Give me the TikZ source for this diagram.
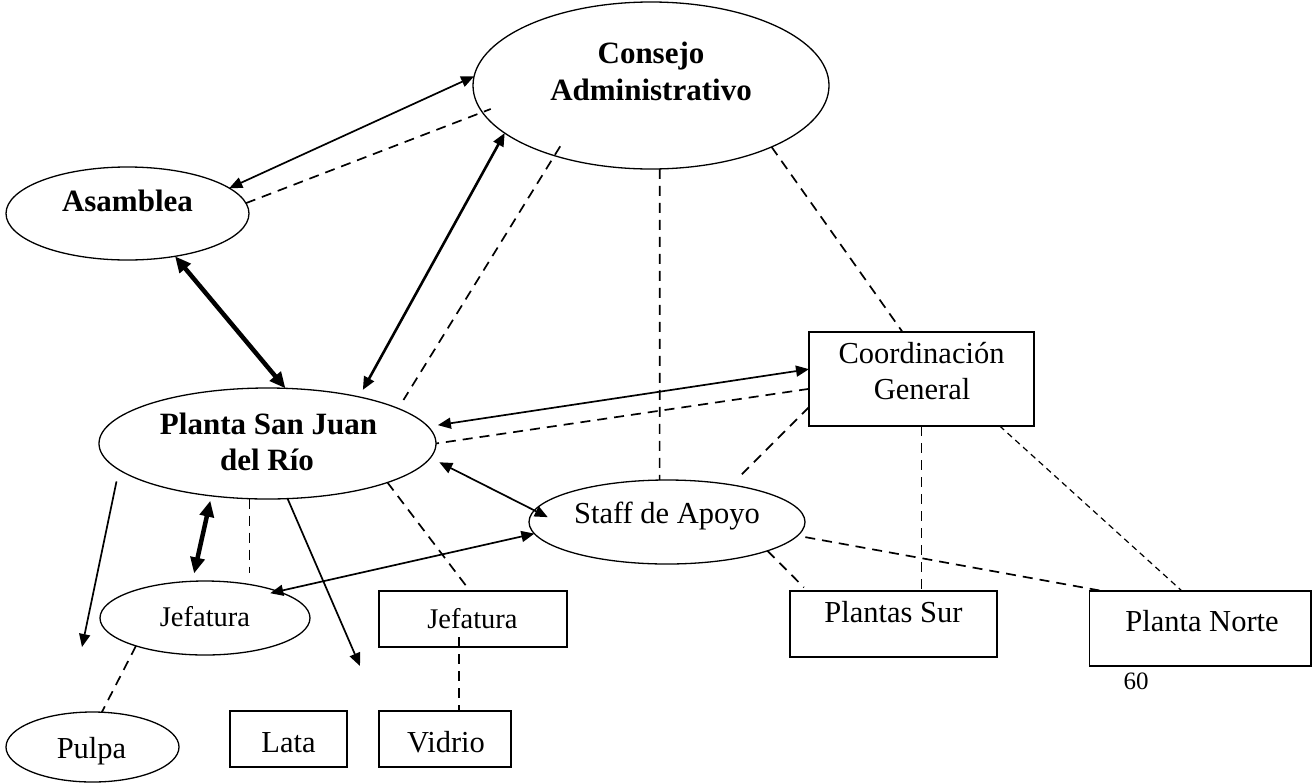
\documentclass[tikz,border=0pt]{standalone}
\usepackage{fontspec}
\setmainfont{Liberation Serif}
\usetikzlibrary{shapes.geometric,arrows.meta,calc}

\tikzset{
  oval/.style={draw, ellipse, line width=1.3pt, inner sep=0pt, outer sep=0pt},
  box/.style={draw, rectangle, line width=1.8pt, inner sep=0pt, outer sep=0pt},
  head/.style={anchor=base, inner sep=0pt, font=\fontsize{31}{36}\selectfont\bfseries},
  txt/.style={anchor=base, inner sep=0pt, font=\fontsize{30.5}{36}\selectfont},
  smalltxt/.style={anchor=base, inner sep=0pt, font=\fontsize{28.5}{34}\selectfont},
  tip/.tip={Triangle[length=13pt,width=11pt]},
  bigtip/.tip={Triangle[length=16pt,width=14pt]},
  link/.style={line width=1.7pt, tip-tip},
  medium/.style={line width=2.6pt, tip-tip},
  heavy/.style={line width=4.5pt, bigtip-bigtip},
  oneway/.style={line width=1.7pt, -tip},
  dashline/.style={line width=1.7pt, dash pattern=on 10pt off 7pt},
  fine/.style={line width=1.2pt, dash pattern=on 6pt off 4.5pt},
}

\begin{document}
\begin{tikzpicture}[x=1pt, y=-1pt]
\useasboundingbox (0,0) rectangle (1313,782);

% ---- shapes ----
\node[oval, minimum width=356, minimum height=167] (cons)  at (651,85.5) {};
\node[oval, minimum width=243, minimum height=93]  (asam)  at (127.5,213.5) {};
\node[oval, minimum width=337, minimum height=111] (plant) at (267.5,443.5) {};
\node[oval, minimum width=210, minimum height=74]  (jefe)  at (205,618) {};
\node[oval, minimum width=173, minimum height=70]  (pulpa) at (92.5,747) {};
\node[oval, minimum width=276, minimum height=84]  (staff) at (667,522) {};

\node[box, minimum width=225, minimum height=94]   (coord)  at (921.5,379) {};
\node[box, minimum width=188, minimum height=56]   (jbox)   at (473,619) {};
\node[box, minimum width=117, minimum height=56]   (lata)   at (288.5,739) {};
\node[box, minimum width=132, minimum height=56]   (vid)    at (445,739) {};
\node[box, minimum width=207, minimum height=66]   (psur)   at (893.5,624) {};
\node[box, minimum width=221.5, minimum height=75] (pnorte) at (1200.25,628.5) {};

% ---- labels ----
\node[head] (consA) at (651,63)    {Consejo};
\node[head] (consB) at (651,100)   {Administrativo};
\node[head] (asamT) at (127.5,211) {Asamblea};
\node[head] (plA)   at (268.5,434) {Planta San Juan};
\node[head] (plB)   at (267,470)   {del Río};
\node[smalltxt] (jefeT) at (205,626)   {Jefatura};
\node[txt] (pulpaT) at (91.5,758)  {Pulpa};
\node[txt] (lataT)  at (288.5,752) {Lata};
\node[txt] (vidT)   at (446,752)   {Vidrio};
\node[smalltxt] (jboxT) at (472.5,628) {Jefatura};
\node[txt] (staffT) at (667,523)   {Staff de Apoyo};
\node[txt] (coordA) at (921.5,363) {Coordinación};
\node[txt] (coordB) at (922,399.5) {General};
\node[txt] (psurT)  at (893.5,622) {Plantas Sur};
\node[txt] (pnT)    at (1202,631)  {Planta Norte};
\node[anchor=base, inner sep=0pt, font=\fontsize{25}{30}\selectfont] (pageno) at (1136,689) {60};

% ---- free ends and helpers ----
\coordinate (pulpend) at (82,647);
\coordinate (latend)  at (360,666);
\coordinate (vlink) at ($(jbox.south west)!0.426!(jbox.south east)$);

% ---- connectors ----
\draw[link] (asam.14) -- (cons.177);
\draw[dashline, shorten >=-9pt] (asam.5) -- (cons.189);
\draw[heavy] (asam.-42) -- (plant.72);
\draw[medium, shorten <=8pt] (plant.27) -- (cons.198);
\draw[dashline, shorten <=-11pt, shorten >=10pt] (cons.216) -- (plant.15);
\draw[dashline] (cons.-84) -- (staff.100);
\draw[dashline] (cons.-27) -- (coord.112);

\draw[link, shorten >=10pt] (coord.175) -- (plant.6);
\draw[dashline] (coord.185) -- (plant.east);
\draw[dashline, shorten >=10pt] (coord.194) -- (staff.30);
\draw[dashline] (coord.south) -- (coord.south |- psur.north);
\draw[fine] (coord.-31) -- (pnorte.116);

\draw[link, shorten <=10pt, shorten >=-15pt] (plant.-5) -- (staff.175);
\draw[link, shorten >=-8pt] (staff.185) -- (jefe.20);
\draw[dashline, shorten >=5pt] (staff.-16) -- (psur.159);
\draw[dashline, shorten <=8pt] (staff.-6) -- (pnorte.159);

\draw[dashline] (plant.-18) -- (jbox.96);
\draw[oneway, shorten <=12pt] (plant.190) -- (pulpend);
\draw[heavy, shorten <=5pt, shorten >=8pt] (plant.223) -- (jefe.109);
\draw[dashline, shorten >=8pt] (plant.252) -- (plant.252 |- jefe.north);
\draw[oneway] (plant.-70) -- (latend);

\draw[dashline] (jefe.202) -- (pulpa.75);
\draw[dashline] ([yshift=10pt]vlink) -- (vlink |- vid.north);
\end{tikzpicture}
\end{document}
